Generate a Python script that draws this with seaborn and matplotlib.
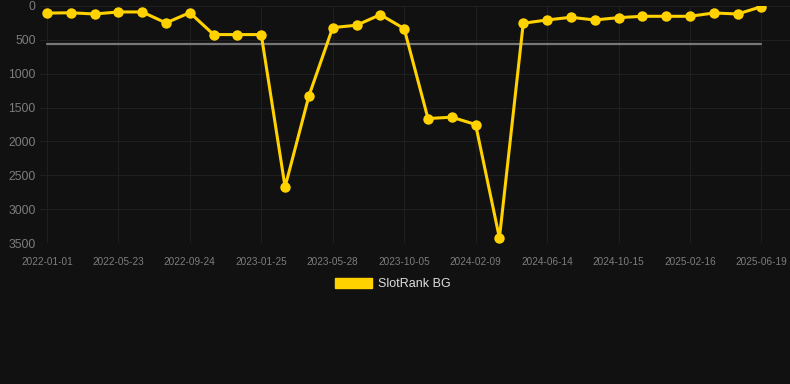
import numpy as np
import pandas as pd
import seaborn as sns
import matplotlib.pyplot as plt
from matplotlib.patches import Patch

# rank per observation (lower is better, axis is inverted)
ranks = [105, 100, 118, 88, 88, 250, 98, 422, 422, 422,
         2672, 1328, 319, 284, 128, 334, 1662, 1642, 1750, 3426,
         255, 206, 167, 206, 172, 152, 152, 152, 103, 118, 10]
tick_labels = ["2022-01-01", "2022-05-23", "2022-09-24", "2023-01-25",
               "2023-05-28", "2023-10-05", "2024-02-09", "2024-06-14",
               "2024-10-15", "2025-02-16", "2025-06-19"]
avg_rank = 559
series_name = "SlotRank BG"

bg = "#111111"
gold = "#FFD200"
grid_col = "#1f1f1f"

sns.set_style("dark", {
    "axes.facecolor": bg,
    "figure.facecolor": bg,
    "grid.color": grid_col,
    "axes.edgecolor": bg,
})
plt.rcParams["font.family"] = ["Liberation Sans", "DejaVu Sans"]

df = pd.DataFrame({"idx": np.arange(len(ranks)), "rank": ranks})

fig = plt.figure(figsize=(7.9, 3.84), dpi=100)
ax = fig.add_axes([40 / 790, 1 - 243 / 384, 750 / 790, 237 / 384])

sns.lineplot(data=df, x="idx", y="rank", ax=ax, color=gold, linewidth=2.2,
             marker="o", markersize=7.5, markeredgewidth=0, label=series_name)
ax.plot([df["idx"].iloc[0], df["idx"].iloc[-1]], [avg_rank, avg_rank],
        color="#777777", linewidth=1.6, zorder=1)

ax.set_ylim(3500, 0)
ax.set_xlim(-0.29, 31.2)
ax.set_yticks(np.arange(0, 3501, 500))
ax.set_xticks(df["idx"][::3])
ax.set_xticklabels(tick_labels)
ax.grid(True, color=grid_col, linewidth=0.8)
ax.tick_params(axis="x", colors="#7d7d7d", labelsize=7.2, length=0, pad=10)
ax.tick_params(axis="y", colors="#7d7d7d", labelsize=8.7, length=0, pad=3)
ax.set_xlabel("")
ax.set_ylabel("")
for s in ax.spines.values():
    s.set_visible(False)

ax.get_legend().remove()
fig.legend(handles=[Patch(facecolor=gold, edgecolor=gold)], labels=[series_name],
           loc="center", bbox_to_anchor=(0.497, 1 - 284 / 384), frameon=False,
           handlelength=3.0, handleheight=0.9, handletextpad=0.45,
           fontsize=9, labelcolor="#dddddd")

fig.savefig("out.png", dpi=100, facecolor=bg)
